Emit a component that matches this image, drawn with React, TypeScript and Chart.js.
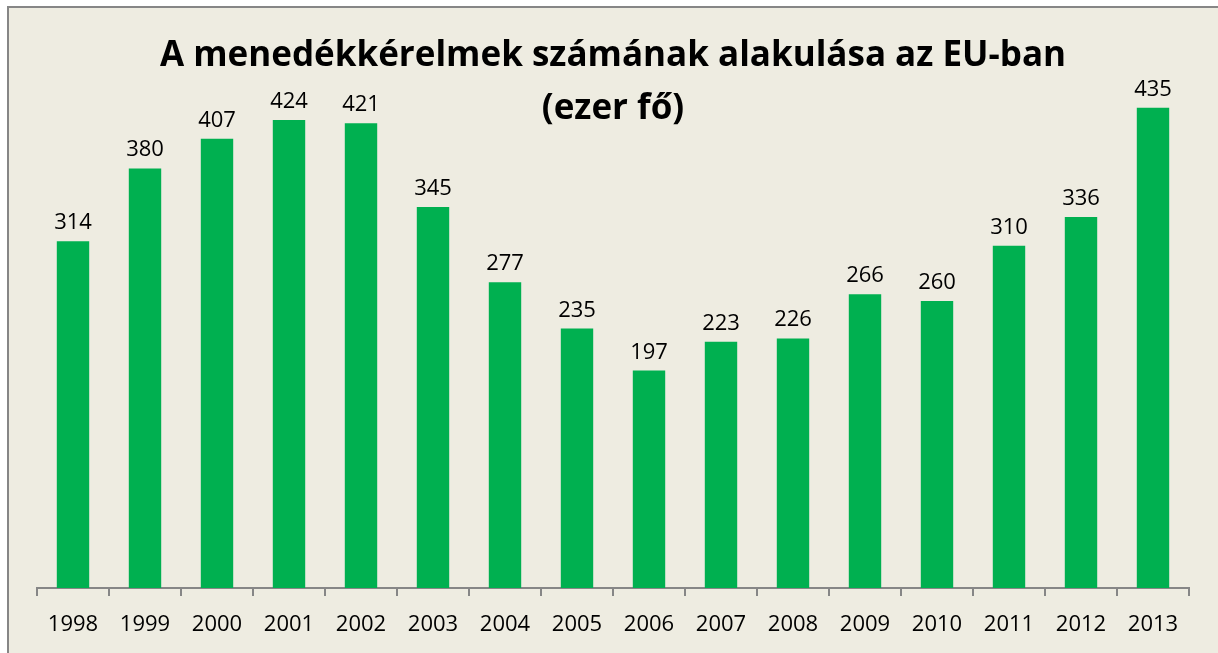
import React, { useEffect, useRef } from "react";
import { Chart, registerables } from "chart.js";

Chart.register(...registerables);

const categories: string[] = ["1998", "1999", "2000", "2001", "2002", "2003", "2004", "2005", "2006", "2007", "2008", "2009", "2010", "2011", "2012", "2013"];
const values: number[] = [314, 380, 407, 424, 421, 345, 277, 235, 197, 223, 226, 266, 260, 310, 336, 435];
const titleLines: string[] = ["A menedékkérelmek számának alakulása az EU-ban", "(ezer fő)"];

const FONT = "'Open Sans', 'Noto Sans', sans-serif";

const overlayPlugin = {
  id: "overlay",
  afterDatasetsDraw(chart: any) {
    const ctx = chart.ctx;
    const meta = chart.getDatasetMeta(0);
    ctx.save();
    ctx.fillStyle = "#000";
    ctx.font = `22px ${FONT}`;
    ctx.textAlign = "center";
    ctx.textBaseline = "alphabetic";
    meta.data.forEach((bar: any, i: number) => {
      ctx.fillText(String(values[i]), bar.x, bar.y - 12);
    });
    ctx.font = `bold 35px ${FONT}`;
    const cx = 604;
    ctx.fillText(titleLines[0], cx, 58);
    ctx.fillText(titleLines[1], cx, 111);
    ctx.restore();
  },
};

export default function App() {
  const ref = useRef<HTMLCanvasElement | null>(null);
  useEffect(() => {
    if (!ref.current) return;
    const chart = new Chart(ref.current, {
      type: "bar",
      data: {
        labels: categories,
        datasets: [
          {
            data: values,
            backgroundColor: "#00B050",
            borderWidth: 0,
            categoryPercentage: 1,
            barPercentage: 0.45,
          },
        ],
      },
      options: {
        animation: false,
        responsive: false,
        maintainAspectRatio: false,
        layout: { padding: { left: 28, right: 29, top: 28, bottom: 0 } },
        plugins: {
          legend: { display: false },
          title: { display: false },
          tooltip: { enabled: false },
        },
        scales: {
          y: { display: false, min: 0, max: 500 },
          x: {
            afterFit(scale: any) {
              scale.height = 65;
            },
            grid: {
              offset: true,
              drawOnChartArea: false,
              drawTicks: true,
              tickLength: 8,
              color: "#868686",
              lineWidth: 2,
            },
            border: { display: true, color: "#868686", width: 2 },
            ticks: {
              color: "#000",
              padding: 16,
              font: { family: FONT, size: 22 },
            },
          },
        },
      },
      plugins: [overlayPlugin],
    });
    return () => chart.destroy();
  }, []);
  return (
    <div
      style={{
        position: "absolute",
        left: 7,
        top: 6,
        width: 1209,
        height: 645,
        background: "#EEECE1",
        borderLeft: "2px solid #868686",
        borderTop: "2px solid #868686",
      }}
    >
      <canvas ref={ref} width={1209} height={645} style={{ display: "block" }} />
    </div>
  );
}
